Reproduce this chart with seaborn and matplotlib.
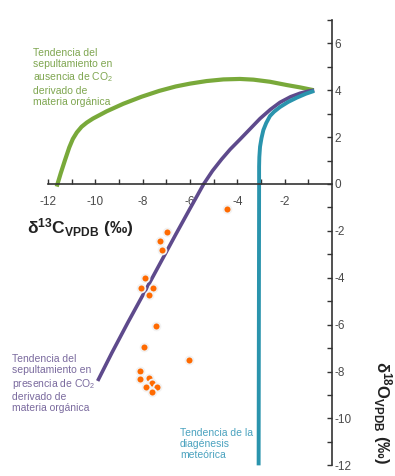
import matplotlib
matplotlib.use('Agg')
import matplotlib.pyplot as plt
import pandas as pd
import seaborn as sns

# trend curves (d13C, d18O)
green_x = [-11.63, -11.46, -11.28, -11.10, -10.95, -10.78, -10.58, -10.36,
           -10.1, -9.8, -9.52, -8.82, -8.05, -7.3, -6.6, -6.0, -5.3, -4.59,
           -3.89, -3.32, -2.62, -1.91, -1.35, -0.77]
green_y = [-0.11, 0.46, 1.02, 1.56, 1.92, 2.2, 2.44, 2.62, 2.79, 2.95, 3.1,
           3.42, 3.72, 3.97, 4.16, 4.28, 4.39, 4.46, 4.48, 4.45, 4.36, 4.22,
           4.12, 4.0]

purple_x = [-9.9, -9.3, -8.62, -7.64, -6.59, -6.0, -5.42, -5.05, -4.66, -4.3,
            -3.89, -3.45, -3.04, -2.6, -2.2, -1.75, -1.35, -1.0, -0.75]
purple_y = [-8.4, -7.2, -5.9, -4.09, -2.13, -1.05, 0.0, 0.56, 1.06, 1.48,
            1.9, 2.36, 2.79, 3.18, 3.48, 3.72, 3.87, 3.96, 4.0]

teal_x = [-0.75, -1.1, -1.49, -1.85, -2.2, -2.45, -2.62, -2.78, -2.9, -2.98,
          -3.04, -3.07, -3.08, -3.08, -3.1]
teal_y = [3.97, 3.85, 3.68, 3.5, 3.28, 3.08, 2.9, 2.6, 2.3, 1.95, 1.59, 1.15,
          0.74, -0.26, -12.0]

# samples
d13c = [-4.45, -6.96, -7.25, -7.17, -7.91, -8.05, -7.57, -7.73, -7.44,
        -7.93, -6.04, -8.1, -8.11, -7.72, -7.62, -7.86, -7.41, -7.62]
d18o = [-1.08, -2.03, -2.43, -2.83, -4.01, -4.42, -4.42, -4.73, -6.04,
        -6.97, -7.52, -7.97, -8.33, -8.27, -8.47, -8.67, -8.67, -8.85]

green_label = 'Tendencia del\nsepultamiento en\nausencia de CO$_2$\nderivado de\nmateria orgánica'
purple_label = 'Tendencia del\nsepultamiento en\npresencia de CO$_2$\nderivado de\nmateria orgánica'
teal_label = 'Tendencia de la\ndiagénesis\nmeteórica'

green, purple, teal, orange = '#79a93a', '#5e4a8c', '#2a94ad', '#ff6a00'

sns.set_theme(style='white')
plt.rcParams['font.family'] = ['Liberation Sans', 'DejaVu Sans']
plt.rcParams['mathtext.fontset'] = 'custom'
plt.rcParams['mathtext.rm'] = 'Liberation Sans'
plt.rcParams['mathtext.bf'] = 'Liberation Sans:bold'
plt.rcParams['mathtext.it'] = 'Liberation Sans:italic'

fig = plt.figure(figsize=(3.95, 4.76), dpi=100)
ax = fig.add_axes([0.0615, 0.00756, 0.8689, 0.9655])
ax.set_facecolor('none')

for xs, ys, c, lw in [(green_x, green_y, green, 3.0),
                      (purple_x, purple_y, purple, 2.6),
                      (teal_x, teal_y, teal, 2.8)]:
    df = pd.DataFrame({'x': xs, 'y': ys})
    sns.lineplot(data=df, x='x', y='y', sort=False, estimator=None,
                 color=c, linewidth=lw, ax=ax, solid_capstyle='butt',
                 solid_joinstyle='round')

pts = pd.DataFrame({'d13c': d13c, 'd18o': d18o})
sns.scatterplot(data=pts, x='d13c', y='d18o', color=orange, s=32,
                edgecolor='#f2f2f2', linewidth=1.3, ax=ax, zorder=5)

ax.set_xlim(-13, 1.5)
ax.set_ylim(-12.3, 7.3)
ax.set_xlabel('')
ax.set_ylabel('')

# axes crossing at the origin
for s in ['top', 'left']:
    ax.spines[s].set_visible(False)
ax.spines['bottom'].set_position(('data', 0))
ax.spines['right'].set_position(('data', 0))
ax.spines['bottom'].set_bounds(-12, 0)
ax.spines['right'].set_bounds(-12, 7)
for s in ['bottom', 'right']:
    ax.spines[s].set_color('#333333')
    ax.spines[s].set_linewidth(1.2)

ax.yaxis.tick_right()
ax.set_xticks(range(-12, -1, 2))
ax.set_xticks(range(-12, 0), minor=True)
ax.set_yticks(range(-12, 7, 2))
ax.set_yticks(range(-12, 8), minor=True)
ax.tick_params(axis='x', which='both', direction='in', length=3.5, width=1,
               color='#333333', pad=9, labelsize=8.5, labelcolor='#4a4a4a',
               bottom=True)
ax.tick_params(axis='y', which='both', direction='in', length=3.5, width=1,
               color='#333333', pad=2, labelsize=8.5, labelcolor='#4a4a4a',
               right=True, left=False)
ax.set_xticklabels([str(v) for v in range(-12, -1, 2)])
ax.set_yticklabels([str(v) for v in range(-12, 7, 2)])

# axis titles
fig.text(27 / 395, 1 - 228 / 476,
         r'δ$^{\mathbf{13}}\mathbf{C}_{\mathbf{VPDB}}$ (‰)',
         fontsize=12.5, fontweight='bold', color='#222222',
         ha='left', va='center')
fig.text(382 / 395, 1 - 413 / 476,
         r'δ$^{\mathbf{18}}\mathbf{O}_{\mathbf{VPDB}}$ (‰)',
         fontsize=12, fontweight='bold', color='#222222',
         ha='center', va='center', rotation=-90)

# curve annotations
fig.text(33 / 395, 1 - 48 / 476, green_label, fontsize=7.5, color='#7fa650',
         ha='left', va='top', linespacing=1.15)
fig.text(12 / 395, 1 - 354 / 476, purple_label, fontsize=7.5, color='#7a6a9e',
         ha='left', va='top', linespacing=1.15)
fig.text(180 / 395, 1 - 428 / 476, teal_label, fontsize=7.5, color='#4aa2bf',
         ha='left', va='top', linespacing=1.15)

fig.savefig('out.png', dpi=100, facecolor='white')
